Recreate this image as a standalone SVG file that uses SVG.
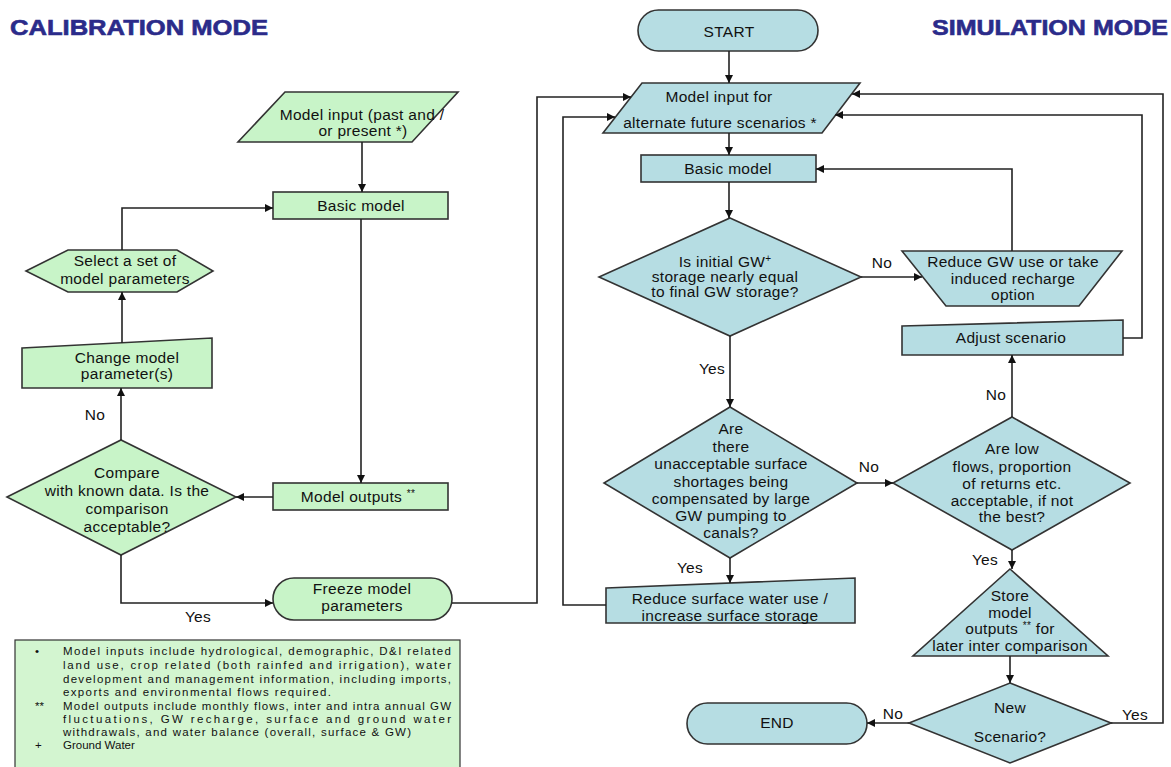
<svg xmlns="http://www.w3.org/2000/svg" width="1171" height="767" viewBox="0 0 1171 767">
<defs>
<marker id="ah" viewBox="0 0 10 10" refX="10" refY="5" markerWidth="8" markerHeight="8" markerUnits="userSpaceOnUse" orient="auto">
<path d="M0,0 L10,5 L0,10 z" fill="#111"/>
</marker>
</defs>
<style>
.g{fill:#c8f4c8;stroke:#333;stroke-width:1.6}
.b{fill:#b6dde3;stroke:#333;stroke-width:1.6}
.t{font-family:"Liberation Sans",Arial,sans-serif;font-size:15.5px;letter-spacing:0.3px;fill:#111;text-anchor:middle}
.l{font-family:"Liberation Sans",Arial,sans-serif;font-size:15.5px;letter-spacing:0.3px;fill:#111;text-anchor:middle}
.h{font-family:"Liberation Sans",Arial,sans-serif;font-size:22px;font-weight:bold;fill:#2b2b8a;stroke:#2b2b8a;stroke-width:0.6}
.f{font-family:"Liberation Sans",Arial,sans-serif;font-size:11.5px;fill:#111}
.c path{fill:none;stroke:#222;stroke-width:1.6;marker-end:url(#ah)}
.sup{font-size:10px}
</style>
<rect width="1171" height="767" fill="#fff"/>
<text class="h" x="10" y="35" textLength="258" lengthAdjust="spacingAndGlyphs">CALIBRATION MODE</text>
<text class="h" x="932" y="35" textLength="236" lengthAdjust="spacingAndGlyphs">SIMULATION MODE</text>

<g id="in_past"><polygon class="g" points="285,92 458,92 412,142 238,142"/><text class="t" x="362" y="120">Model input (past and /</text><text class="t" x="363" y="136">or present *)</text></g>
<g id="basic_c"><rect class="g" x="273" y="192" width="175" height="27"/><text class="t" x="361" y="211">Basic model</text></g>
<g id="out_c"><rect class="g" x="273" y="483" width="175" height="27"/><text class="t" x="358" y="502">Model outputs <tspan class="sup" dy="-5">**</tspan></text></g>
<g id="cmp"><polygon class="g" points="7,497 121,440 236,497 121,555"/><text class="t" x="127" y="478">Compare</text><text class="t" x="127" y="496">with known data. Is the</text><text class="t" x="127" y="514">comparison</text><text class="t" x="127" y="532">acceptable?</text></g>
<g id="chg"><polygon class="g" points="22,348 212,338 212,388 22,388"/><text class="t" x="127" y="363">Change model</text><text class="t" x="127" y="379">parameter(s)</text></g>
<g id="sel"><polygon class="g" points="26,271 68,250 177,250 213,271 177,292 68,292"/><text class="t" x="125" y="266">Select a set of</text><text class="t" x="125" y="284">model parameters</text></g>
<g id="frz"><rect class="g" x="273" y="578" width="179" height="42" rx="21"/><text class="t" x="362" y="594">Freeze model</text><text class="t" x="362" y="611">parameters</text></g>

<g id="start"><rect class="b" x="638" y="10" width="180" height="41" rx="20.5"/><text class="t" x="729" y="37">START</text></g>
<g id="in_fut"><polygon class="b" points="642,83 860,83 822,133 603,133"/><text class="t" x="719" y="102">Model input for</text><text class="t" x="720" y="128">alternate future scenarios *</text></g>
<g id="basic_s"><rect class="b" x="641" y="155" width="175" height="27"/><text class="t" x="728" y="174">Basic model</text></g>
<g id="d1"><polygon class="b" points="730,218 861,277 730,336 599,277"/><text class="t" x="725" y="267">Is initial GW<tspan class="sup" dy="-5">+</tspan></text><text class="t" x="725" y="282">storage nearly equal</text><text class="t" x="725" y="297">to final GW storage?</text></g>
<g id="red_gw"><polygon class="b" points="902,251 1122,251 1079,306 946,306"/><text class="t" x="1013" y="267">Reduce GW use or take</text><text class="t" x="1013" y="284">induced recharge</text><text class="t" x="1013" y="300">option</text></g>
<g id="adj"><polygon class="b" points="902,326 1123,320 1123,355 902,355"/><text class="t" x="1011" y="343">Adjust scenario</text></g>
<g id="d2"><polygon class="b" points="730,407 857,483 730,558 604,483"/><text class="t" x="731" y="434">Are</text><text class="t" x="731" y="452">there</text><text class="t" x="731" y="469">unacceptable surface</text><text class="t" x="731" y="487">shortages being</text><text class="t" x="731" y="504">compensated by large</text><text class="t" x="731" y="521">GW pumping to</text><text class="t" x="731" y="538">canals?</text></g>
<g id="d3"><polygon class="b" points="1012,417 1130,483 1012,550 893,483"/><text class="t" x="1012" y="454">Are low</text><text class="t" x="1012" y="472">flows, proportion</text><text class="t" x="1012" y="489">of returns etc.</text><text class="t" x="1012" y="506">acceptable, if not</text><text class="t" x="1012" y="522">the best?</text></g>
<g id="red_sw"><polygon class="b" points="606,588 855,578 855,623 606,623"/><text class="t" x="730" y="604">Reduce surface water use /</text><text class="t" x="730" y="621">increase surface storage</text></g>
<g id="store"><polygon class="b" points="1010,569 1108,656 913,656"/><text class="t" x="1010" y="601">Store</text><text class="t" x="1010" y="618">model</text><text class="t" x="1010" y="634">outputs <tspan class="sup" dy="-5">**</tspan><tspan dy="5"> for</tspan></text><text class="t" x="1010" y="651">later inter comparison</text></g>
<g id="d4"><polygon class="b" points="1010,683 1111,723 1010,763 909,723"/><text class="t" x="1010" y="713">New</text><text class="t" x="1010" y="742">Scenario?</text></g>
<g id="end"><rect class="b" x="687" y="703" width="180" height="41" rx="20.5"/><text class="t" x="777" y="728">END</text></g>

<g id="connectors" class="c">
<path d="M362,142 V192"/>
<path d="M361,219 V483"/>
<path d="M273,497 H236"/>
<path d="M121,440 V388"/>
<path d="M122,343 V292"/>
<path d="M122,250 V208 H273"/>
<path d="M121,555 V603 H273"/>
<path d="M452,603 H537 V97 H631"/>
<path d="M729,51 V83"/>
<path d="M729,133 V155"/>
<path d="M729,182 V218"/>
<path d="M861,277 H922"/>
<path d="M1012,251 V169 H816"/>
<path d="M730,336 V407"/>
<path d="M857,483 H893"/>
<path d="M730,558 V583"/>
<path d="M606,605 H563 V117 H615"/>
<path d="M1012,417 V355"/>
<path d="M1012,550 V569"/>
<path d="M1010,656 V683"/>
<path d="M909,723 H867"/>
<path d="M1111,723 H1163 V94 H852"/>
<path d="M1123,338 H1142 V115 H835"/>
</g>
<g id="labels">
<text class="l" x="95" y="420">No</text>
<text class="l" x="198" y="622">Yes</text>
<text class="l" x="882" y="268">No</text>
<text class="l" x="712" y="374">Yes</text>
<text class="l" x="869" y="472">No</text>
<text class="l" x="690" y="573">Yes</text>
<text class="l" x="996" y="400">No</text>
<text class="l" x="985" y="565">Yes</text>
<text class="l" x="893" y="719">No</text>
<text class="l" x="1135" y="720">Yes</text>
</g>

<g id="footnote">
<rect x="15" y="640" width="445" height="140" fill="#d3f5d0" stroke="#333" stroke-width="1.2"/>
<text class="f" x="35" y="655">•</text>
<text class="f" x="63" y="655" textLength="388" lengthAdjust="spacing">Model inputs include hydrological, demographic, D&amp;I related</text>
<text class="f" x="63" y="669" textLength="388" lengthAdjust="spacing">land use, crop related (both rainfed and irrigation), water</text>
<text class="f" x="63" y="683" textLength="388" lengthAdjust="spacing">development and management information, including imports,</text>
<text class="f" x="63" y="696" textLength="268" lengthAdjust="spacing">exports and environmental flows required.</text>
<text class="f" x="35" y="710">**</text>
<text class="f" x="63" y="710" textLength="388" lengthAdjust="spacing">Model outputs include monthly flows, inter and intra annual GW</text>
<text class="f" x="63" y="723" textLength="388" lengthAdjust="spacing">fluctuations, GW recharge, surface and ground water</text>
<text class="f" x="63" y="736" textLength="348" lengthAdjust="spacing">withdrawals, and water balance (overall, surface &amp; GW)</text>
<text class="f" x="35" y="749">+</text>
<text class="f" x="63" y="749">Ground Water</text>
</g>
</svg>
